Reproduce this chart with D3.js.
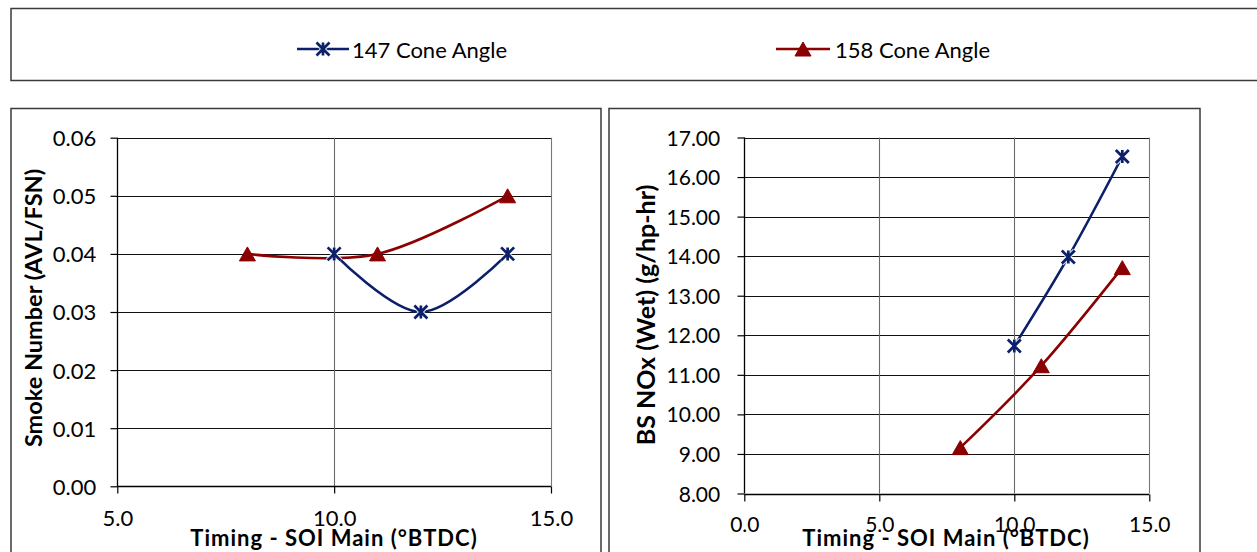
<!DOCTYPE html>
<html>
<head>
<meta charset="utf-8">
<script src="https://cdn.jsdelivr.net/npm/d3@7"></script>
<style>
  html, body { margin: 0; padding: 0; background: #fff; }
  svg { display: block; }
  text { font-family: Lato, "Open Sans", sans-serif; fill: #000; }
</style>
</head>
<body>
<svg id="chart" width="1257" height="552"></svg>
<script>
// Series names
const seriesNames = ["147 Cone Angle", "158 Cone Angle"];
const seriesColors = ["#0b1f6b", "#8b0000"];

// Smoke number vs. main injection timing
const smokeTiming147 = [10, 12, 14];
const smokeValues147 = [0.04, 0.03, 0.04];
const smokeTiming158 = [8, 11, 14];
const smokeValues158 = [0.04, 0.04, 0.05];

// Brake-specific NOx vs. main injection timing
const noxTiming147 = [10, 12, 14];
const noxValues147 = [11.73, 13.98, 16.52];
const noxTiming158 = [8, 11, 14];
const noxValues158 = [9.16, 11.23, 13.71];

// Axis ticks
const smokeXTicks = [5, 10, 15];
const smokeYTicks = [0, 0.01, 0.02, 0.03, 0.04, 0.05, 0.06];
const noxXTicks = [0, 5, 10, 15];
const noxYTicks = [8, 9, 10, 11, 12, 13, 14, 15, 16, 17];

const xTitle = "Timing - SOI Main (°BTDC)";
const smokeYTitle = "Smoke Number (AVL/FSN)";
const noxYTitle = "BS NOx (Wet) (g/hp-hr)";

const svg = d3.select("#chart");

// Frames: legend strip and the two chart panels
const frame = "#3a3a3a";
svg.append("rect").attr("x", 11).attr("y", 8.5).attr("width", 1260).attr("height", 72)
  .attr("fill", "none").attr("stroke", frame).attr("stroke-width", 1.5);
svg.append("rect").attr("x", 11).attr("y", 108.5).attr("width", 590).attr("height", 460)
  .attr("fill", "none").attr("stroke", frame).attr("stroke-width", 1.5);
svg.append("rect").attr("x", 609).attr("y", 108.5).attr("width", 591).attr("height", 460)
  .attr("fill", "none").attr("stroke", frame).attr("stroke-width", 1.5);

// Markers
function starPath(s) {
  return `M${-s},${-s}L${s},${s}M${-s},${s}L${s},${-s}M0,${-s}L0,${s}`;
}
function triPath(w, h) {
  return `M0,${-h / 2}L${w / 2},${h / 2}L${-w / 2},${h / 2}Z`;
}
function drawMarker(g, kind, x, y, color) {
  if (kind === 0) {
    g.append("path").attr("d", starPath(6.5)).attr("transform", `translate(${x},${y})`)
      .attr("stroke", "#fff").attr("stroke-width", 5).attr("fill", "none").attr("opacity", 0.8);
    g.append("path").attr("d", starPath(6.5)).attr("transform", `translate(${x},${y})`)
      .attr("stroke", color).attr("stroke-width", 2.7).attr("fill", "none");
  } else {
    g.append("path").attr("d", triPath(16, 14)).attr("transform", `translate(${x},${y})`)
      .attr("fill", color).attr("stroke", color).attr("stroke-width", 1).attr("stroke-linejoin", "round");
  }
}

// Legend
const legendItems = [
  { x0: 297, x1: 349, tx: 352 },
  { x0: 776, x1: 830, tx: 835 }
];
const legend = svg.append("g");
seriesNames.forEach((name, i) => {
  const it = legendItems[i];
  legend.append("line").attr("x1", it.x0).attr("x2", it.x1).attr("y1", 49).attr("y2", 49)
    .attr("stroke", seriesColors[i]).attr("stroke-width", 2.6);
  drawMarker(legend, i, (it.x0 + it.x1) / 2, 49, seriesColors[i]);
  legend.append("text").attr("x", it.tx).attr("y", 49).attr("dominant-baseline", "central")
    .attr("font-size", 22).text(name);
});

function drawPanel(opts) {
  const g = svg.append("g");
  const x = d3.scaleLinear().domain(opts.xDomain).range(opts.xRange);
  const y = d3.scaleLinear().domain(opts.yDomain).range(opts.yRange);
  const [xl, xr] = opts.xRange;
  const [yb, yt] = opts.yRange;

  // horizontal gridlines
  g.append("g").selectAll("line").data(opts.yTicks.slice(1)).join("line")
    .attr("x1", xl).attr("x2", xr)
    .attr("y1", d => Math.round(y(d)) + 0.5).attr("y2", d => Math.round(y(d)) + 0.5)
    .attr("stroke", "#111").attr("stroke-width", 1.1);
  // vertical gridlines
  g.append("g").selectAll("line").data(opts.xTicks.slice(1, -1)).join("line")
    .attr("x1", d => Math.round(x(d)) + 0.5).attr("x2", d => Math.round(x(d)) + 0.5)
    .attr("y1", yt).attr("y2", yb)
    .attr("stroke", "#6a6a6a").attr("stroke-width", 1.1);
  // right border of plot area
  g.append("line").attr("x1", Math.round(xr) + 0.5).attr("x2", Math.round(xr) + 0.5)
    .attr("y1", yt).attr("y2", yb).attr("stroke", "#777").attr("stroke-width", 1.1);

  // axes
  const yAxis = d3.axisLeft(y).tickValues(opts.yTicks).tickSize(7).tickPadding(0)
    .tickFormat(d3.format(".2f"));
  const ya = g.append("g").attr("transform", `translate(${Math.round(xl) + 0.5},0)`).call(yAxis);
  ya.select(".domain").attr("stroke", "#000").attr("stroke-width", 1.3).attr("d", `M0,${yt}V${yb}`);
  ya.selectAll(".tick line").attr("stroke", "#000").attr("stroke-width", 1.2);
  ya.selectAll(".tick text").attr("x", opts.yLabelRight - xl).attr("dy", "0.36em")
    .attr("font-size", opts.tickSize).attr("font-family", "Lato, sans-serif").attr("fill", "#000");

  const xAxis = d3.axisBottom(x).tickValues(opts.xTicks).tickSize(7).tickFormat(d3.format(".1f"));
  const xa = g.append("g").attr("transform", `translate(0,${Math.round(yb) + 0.5})`).call(xAxis);
  xa.select(".domain").attr("stroke", "#000").attr("stroke-width", 1.3).attr("d", `M${xl},0H${xr}`);
  xa.selectAll(".tick line").attr("stroke", "#000").attr("stroke-width", 1.2);
  xa.selectAll(".tick text").attr("y", opts.xLabelY - yb).attr("dy", "0.36em")
    .attr("font-size", opts.tickSize).attr("font-family", "Lato, sans-serif").attr("fill", "#000");

  // axis titles
  g.append("text").attr("x", opts.xTitleX).attr("y", 546)
    .attr("text-anchor", "middle").attr("font-weight", "bold").attr("font-size", 22)
    .attr("letter-spacing", 1).text(xTitle);
  g.append("text").attr("transform", `translate(${opts.yTitleX},${opts.yTitleY}) rotate(-90)`)
    .attr("dominant-baseline", "central").attr("text-anchor", "middle")
    .attr("font-weight", "bold").attr("font-size", opts.yTitleSize).text(opts.yTitle);

  // series
  opts.series.forEach((s, i) => {
    const pts = s.xs.map((v, k) => [x(v), y(s.ys[k])]);
    const line = d3.line().curve(opts.smooth ? d3.curveCardinal.tension(0) : d3.curveLinear);
    g.append("path").attr("d", line(pts)).attr("fill", "none")
      .attr("stroke", seriesColors[i]).attr("stroke-width", 2.6);
  });
  opts.series.forEach((s, i) => {
    s.xs.forEach((v, k) => drawMarker(g, i, x(v), y(s.ys[k]), seriesColors[i]));
  });
}

drawPanel({
  xDomain: [5, 15], xRange: [117.3, 551],
  yDomain: [0, 0.06], yRange: [486.3, 137.7],
  xTicks: smokeXTicks, yTicks: smokeYTicks,
  yLabelRight: 96, xLabelY: 518, tickSize: 22,
  xTitleX: 334, yTitleX: 33, yTitleY: 308, yTitleSize: 23.5,
  yTitle: smokeYTitle, smooth: true,
  series: [
    { xs: smokeTiming147, ys: smokeValues147 },
    { xs: smokeTiming158, ys: smokeValues158 }
  ]
});

drawPanel({
  xDomain: [0, 15], xRange: [744.3, 1149.3],
  yDomain: [8, 17], yRange: [493.5, 137.5],
  xTicks: noxXTicks, yTicks: noxYTicks,
  yLabelRight: 720, xLabelY: 523, tickSize: 21,
  xTitleX: 946, yTitleX: 645, yTitleY: 315, yTitleSize: 25,
  yTitle: noxYTitle, smooth: true,
  series: [
    { xs: noxTiming147, ys: noxValues147 },
    { xs: noxTiming158, ys: noxValues158 }
  ]
});
</script>
</body>
</html>
